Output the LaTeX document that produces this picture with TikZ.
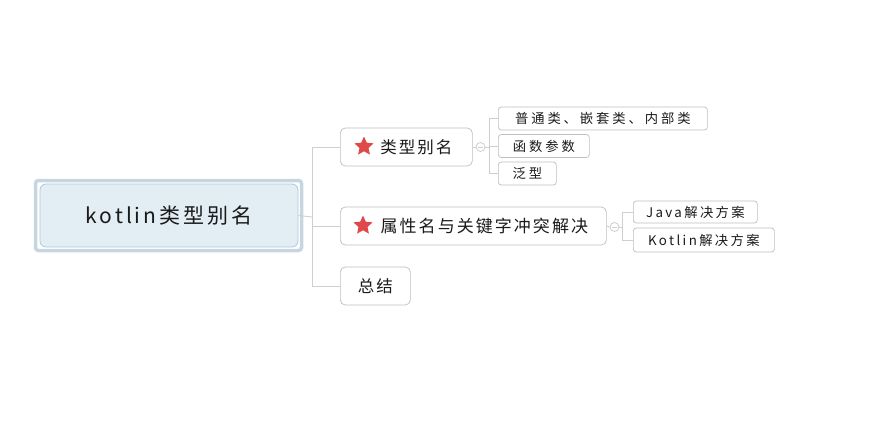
\documentclass[tikz,border=0pt]{standalone}
\usepackage{fontspec}
\newfontfamily\cjk{Noto Sans CJK SC}
\usetikzlibrary{shapes.geometric}
\definecolor{linegray}{HTML}{CFCFCF}
\definecolor{boxgray}{HTML}{BEBEBE}
\definecolor{rootfill}{HTML}{E2EEF3}
\definecolor{rootouter}{HTML}{C6D6E1}
\definecolor{rootinner}{HTML}{AFC6D5}
\definecolor{starred}{HTML}{E0484A}
\definecolor{txt}{HTML}{1A1A1A}
\begin{document}
\begin{tikzpicture}[x=1pt,y=-1pt,
  conn/.style={draw=linegray, line width=0.9pt},
  mainbox/.style={draw=boxgray, rounded corners=5pt, fill=white, line width=0.7pt,
    inner sep=0pt, anchor=west, text=txt,
    font=\cjk\addfontfeature{LetterSpace=12}\fontsize{16.5}{18}\selectfont},
  subbox/.style={draw=boxgray, rounded corners=3pt, fill=white, line width=0.7pt,
    inner sep=0pt, anchor=west, text=txt, minimum height=23pt,
    font=\cjk\addfontfeature{LetterSpace=22}\fontsize{13.3}{15}\selectfont},
  toggle/.style={circle, draw=linegray, fill=white, line width=0.8pt, minimum size=9pt, inner sep=0pt},
  redstar/.style={star, star points=5, star point ratio=2.1, fill=starred, draw=none,
    minimum size=20pt, inner sep=0pt}
]
\path[use as bounding box] (0,0) rectangle (869,431);

% root
\draw[rootouter, line width=3.5pt, rounded corners=3pt] (35.5,180.5) rectangle (301.5,250.5);
\node[draw=rootinner, fill=rootfill, line width=0.8pt, rounded corners=6pt,
  minimum width=258pt, minimum height=63pt, inner sep=0pt, text=txt,
  font=\cjk\addfontfeature{LetterSpace=14}\fontsize{21}{24}\selectfont]
  (root) at (169,215.5) {kotlin类型别名};

% level 1
\node[mainbox, minimum width=132pt, minimum height=38pt] (n1) at (340,147)
  {\hspace*{20pt}类型别名};
\node[redstar] (s1) at ([xshift=24pt,yshift=0.5pt]n1.west) {};
\node[mainbox, minimum width=266pt, minimum height=38pt,
  font=\cjk\addfontfeature{LetterSpace=12}\fontsize{17}{18}\selectfont] (n2) at (340,226)
  {\hspace*{22pt}属性名与关键字冲突解决};
\node[redstar] (s2) at ([xshift=23pt,yshift=0.5pt]n2.west) {};
\node[mainbox, minimum width=70pt, minimum height=38pt] (n3) at (340,286) {总结};

% level 2
\node[subbox, minimum width=209pt] (a1) at (498,118.5) {普通类、嵌套类、内部类};
\node[subbox, minimum width=91pt] (a2) at (498,146) {函数参数};
\node[subbox, minimum width=58pt] (a3) at (498,173.5) {泛型};
\node[subbox, minimum width=124pt, minimum height=22pt,
  font=\cjk\addfontfeature{LetterSpace=18}\fontsize{13.3}{15}\selectfont] (b1) at (633,212) {Java解决方案};
\node[subbox, minimum width=141pt, minimum height=24pt,
  font=\cjk\addfontfeature{LetterSpace=18}\fontsize{13.3}{15}\selectfont] (b2) at (633,240) {Kotlin解决方案};

% connectors from root
\coordinate (trunk) at (312,217);
\draw[conn] (root.east) -- (trunk);
\draw[conn] (trunk) |- (n1.west);
\draw[conn] (trunk) |- (n2.west);
\draw[conn] (trunk) |- (n3.west);

% toggles
\node[toggle] (t1) at (480.5,147) {};
\node[toggle] (t2) at (614.5,227) {};
\draw[linegray, line width=0.8pt] ([xshift=-2.2pt]t1.center) -- ([xshift=2.2pt]t1.center);
\draw[linegray, line width=0.8pt] ([xshift=-2.2pt]t2.center) -- ([xshift=2.2pt]t2.center);
\draw[conn] (n1.east) -- (t1.west);
\draw[conn] (n2.east) -- (t2.west);

\coordinate (j1) at (489,147);
\coordinate (j2) at (622,227);
\draw[conn] (t1.east) -- (j1);
\draw[conn] (t2.east) -- (j2);
\draw[conn] (j1) |- (a1.west);
\draw[conn] (j1) |- (a2.west);
\draw[conn] (j1) |- (a3.west);
\draw[conn] (j2) |- (b1.west);
\draw[conn] (j2) |- (b2.west);
\end{tikzpicture}
\end{document}
